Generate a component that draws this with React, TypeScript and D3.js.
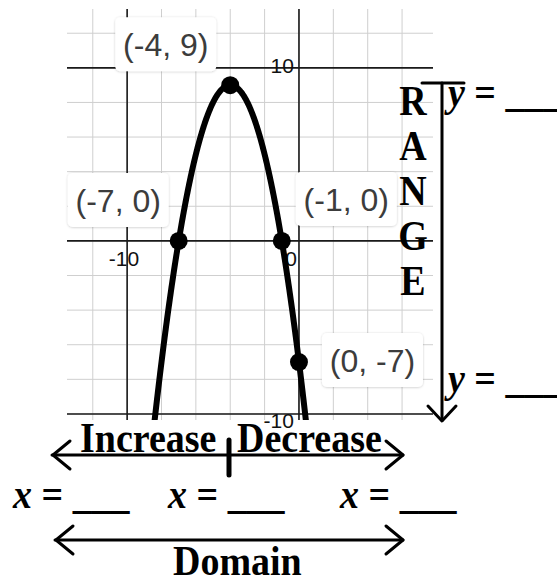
import React from "react";
import * as d3 from "d3";

// Parabola y = a(x - h)^2 + k
const parabolaA = -1;
const parabolaH = -4;
const parabolaK = 9;

// Labelled key points on the curve
const pointX = [-4, -7, -1, 0];
const pointY = [9, 0, 0, -7];
const pointLabels = ["(-4, 9)", "(-7, 0)", "(-1, 0)", "(0, -7)"];

// Grid lines and axis tick labels
const minorX = [-12, -10, -8, -6, -4, -2, 0, 2, 4, 6];
const minorY = [-10, -8, -6, -4, -2, 0, 2, 4, 6, 8, 10, 12];
const majorX = [-10, 0];
const majorY = [-10, 0, 10];
const xTickLabels = ["-10", "0"];
const xTickValues = [-10, 0];
const yTickLabels = ["10", "-10"];
const yTickValues = [10, -10];

const rangeLetters = ["R", "A", "N", "G", "E"];

const W = 557;
const H = 578;

const x = d3.scaleLinear().domain([-13.5, 7.8]).range([67, 433]);
const y = d3.scaleLinear().domain([13.4, -10.35]).range([9, 420]);

const f = (v: number) => parabolaA * (v - parabolaH) ** 2 + parabolaK;

// where each label box sits relative to its point (box left/top offsets)
const labelPlacement = [
  { dx: -115, dy: -68 },
  { dx: -111, dy: -68 },
  { dx: 14, dy: -69 },
  { dx: 23, dy: -29 },
];

const serif = "'Liberation Serif', 'Times New Roman', serif";
const sans = "'Liberation Sans', Arial, sans-serif";

// bold serif annotation text, drawn slightly tall
function Caption({
  x: tx,
  y: ty,
  anchor = "start",
  children,
}: {
  x: number;
  y: number;
  anchor?: string;
  children: React.ReactNode;
}) {
  return (
    <text
      transform={`translate(${tx},${ty}) scale(1,1.12)`}
      textAnchor={anchor}
      fontFamily={serif}
      fontWeight="bold"
      fontSize={38}
      fill="#000"
    >
      {children}
    </text>
  );
}

export default function App() {
  const xs = d3.range(-13.5, 7.8, 0.02);
  const curve = d3
    .line<number>()
    .x((v) => x(v))
    .y((v) => y(f(v)))(xs);

  const [x0, x1] = x.range();
  const [y0, y1] = y.range();

  const boxW = 101;
  const boxH = 54;

  return (
    <svg
      width={W}
      height={H}
      viewBox={`0 0 ${W} ${H}`}
      style={{ position: "absolute", left: 0, top: 0, background: "#fff" }}
    >
      <defs>
        <filter id="lblShadow" x="-20%" y="-20%" width="140%" height="140%">
          <feDropShadow dx="0" dy="0.5" stdDeviation="1.2" floodColor="#000" floodOpacity="0.22" />
        </filter>
        <clipPath id="plotClip">
          <rect x={x0} y={y0} width={x1 - x0} height={y1 - y0} />
        </clipPath>
      </defs>

      {/* minor grid */}
      <g stroke="#cfcfcf" strokeWidth={1}>
        {minorX.map((v) => (
          <line key={"mx" + v} x1={x(v)} x2={x(v)} y1={y0} y2={y1} />
        ))}
        {minorY.map((v) => (
          <line key={"my" + v} x1={x0} x2={x1} y1={y(v)} y2={y(v)} />
        ))}
      </g>
      {/* major grid and axes */}
      <g stroke="#1a1a1a" strokeWidth={1.6}>
        {majorX.map((v) => (
          <line key={"Mx" + v} x1={x(v)} x2={x(v)} y1={y0} y2={y1} />
        ))}
        {majorY.map((v) => (
          <line key={"My" + v} x1={x0} x2={x1} y1={y(v)} y2={y(v)} />
        ))}
      </g>

      {/* tick labels */}
      <g fontFamily={sans} fontSize={21} fill="#111">
        {xTickValues.map((v, i) => (
          <text
            key={"xt" + v}
            x={v === 0 ? x(v) - 2 : x(v) + 12}
            y={y(0) + 25}
            textAnchor="end"
          >
            {xTickLabels[i]}
          </text>
        ))}
        {yTickValues.map((v, i) => (
          <text key={"yt" + v} x={x(0) - 5} y={v > 0 ? y(v) + 5 : y(v) + 14} textAnchor="end">
            {yTickLabels[i]}
          </text>
        ))}
      </g>

      {/* curve */}
      <path
        d={curve || ""}
        fill="none"
        stroke="#000"
        strokeWidth={6}
        clipPath="url(#plotClip)"
      />

      {/* key points */}
      {pointX.map((px, i) => (
        <circle key={"p" + i} cx={x(px)} cy={y(pointY[i])} r={9} fill="#000" />
      ))}

      {/* point labels */}
      {pointX.map((px, i) => {
        const bx = Math.max(x0, x(px) + labelPlacement[i].dx);
        const by = y(pointY[i]) + labelPlacement[i].dy;
        return (
          <g key={"l" + i}>
            <rect
              x={bx}
              y={by}
              width={boxW}
              height={boxH}
              rx={5}
              fill="#fff"
              filter="url(#lblShadow)"
            />
            <text
              x={bx + boxW / 2}
              y={by + 39}
              textAnchor="middle"
              fontFamily={sans}
              fontSize={32}
              fill="#3c3c3c"
            >
              {pointLabels[i]}
            </text>
          </g>
        );
      })}

      {/* RANGE */}
      {rangeLetters.map((c, i) => (
        <Caption key={c + i} x={413} y={115 + i * 45} anchor="middle">
          {c}
        </Caption>
      ))}

      {/* range arrow */}
      <g stroke="#000" strokeWidth={3} fill="none" strokeLinecap="round" strokeLinejoin="round">
        <line x1={442} x2={442} y1={83} y2={420} />
        <line x1={422} x2={464} y1={83} y2={83} />
        <polyline points="428,406 442,421 456,406" />
      </g>

      <Caption x={448} y={106}>
        <tspan fontStyle="italic">y</tspan> = ___
      </Caption>
      <Caption x={448} y={392}>
        <tspan fontStyle="italic">y</tspan> = ___
      </Caption>

      {/* increase / decrease and domain */}
      <Caption x={80} y={452}>Increase</Caption>
      <Caption x={237} y={452}>Decrease</Caption>
      <Caption x={173} y={575}>Domain</Caption>
      <Caption x={13} y={508}>
        <tspan fontStyle="italic">x</tspan> = ___
      </Caption>
      <Caption x={168} y={508}>
        <tspan fontStyle="italic">x</tspan> = ___
      </Caption>
      <Caption x={340} y={508}>
        <tspan fontStyle="italic">x</tspan> = ___
      </Caption>

      <g stroke="#000" strokeWidth={3} fill="none" strokeLinecap="round" strokeLinejoin="round">
        <line x1={52} x2={403} y1={455} y2={455} />
        <polyline points="70,441 53,455 70,469" />
        <polyline points="386,441 403,455 386,469" />
        <line x1={229} x2={229} y1={440} y2={475} strokeWidth={5} />
        <line x1={55} x2={403} y1={540} y2={540} />
        <polyline points="73,526 56,540 73,554" />
        <polyline points="386,526 403,540 386,554" />
      </g>
    </svg>
  );
}
